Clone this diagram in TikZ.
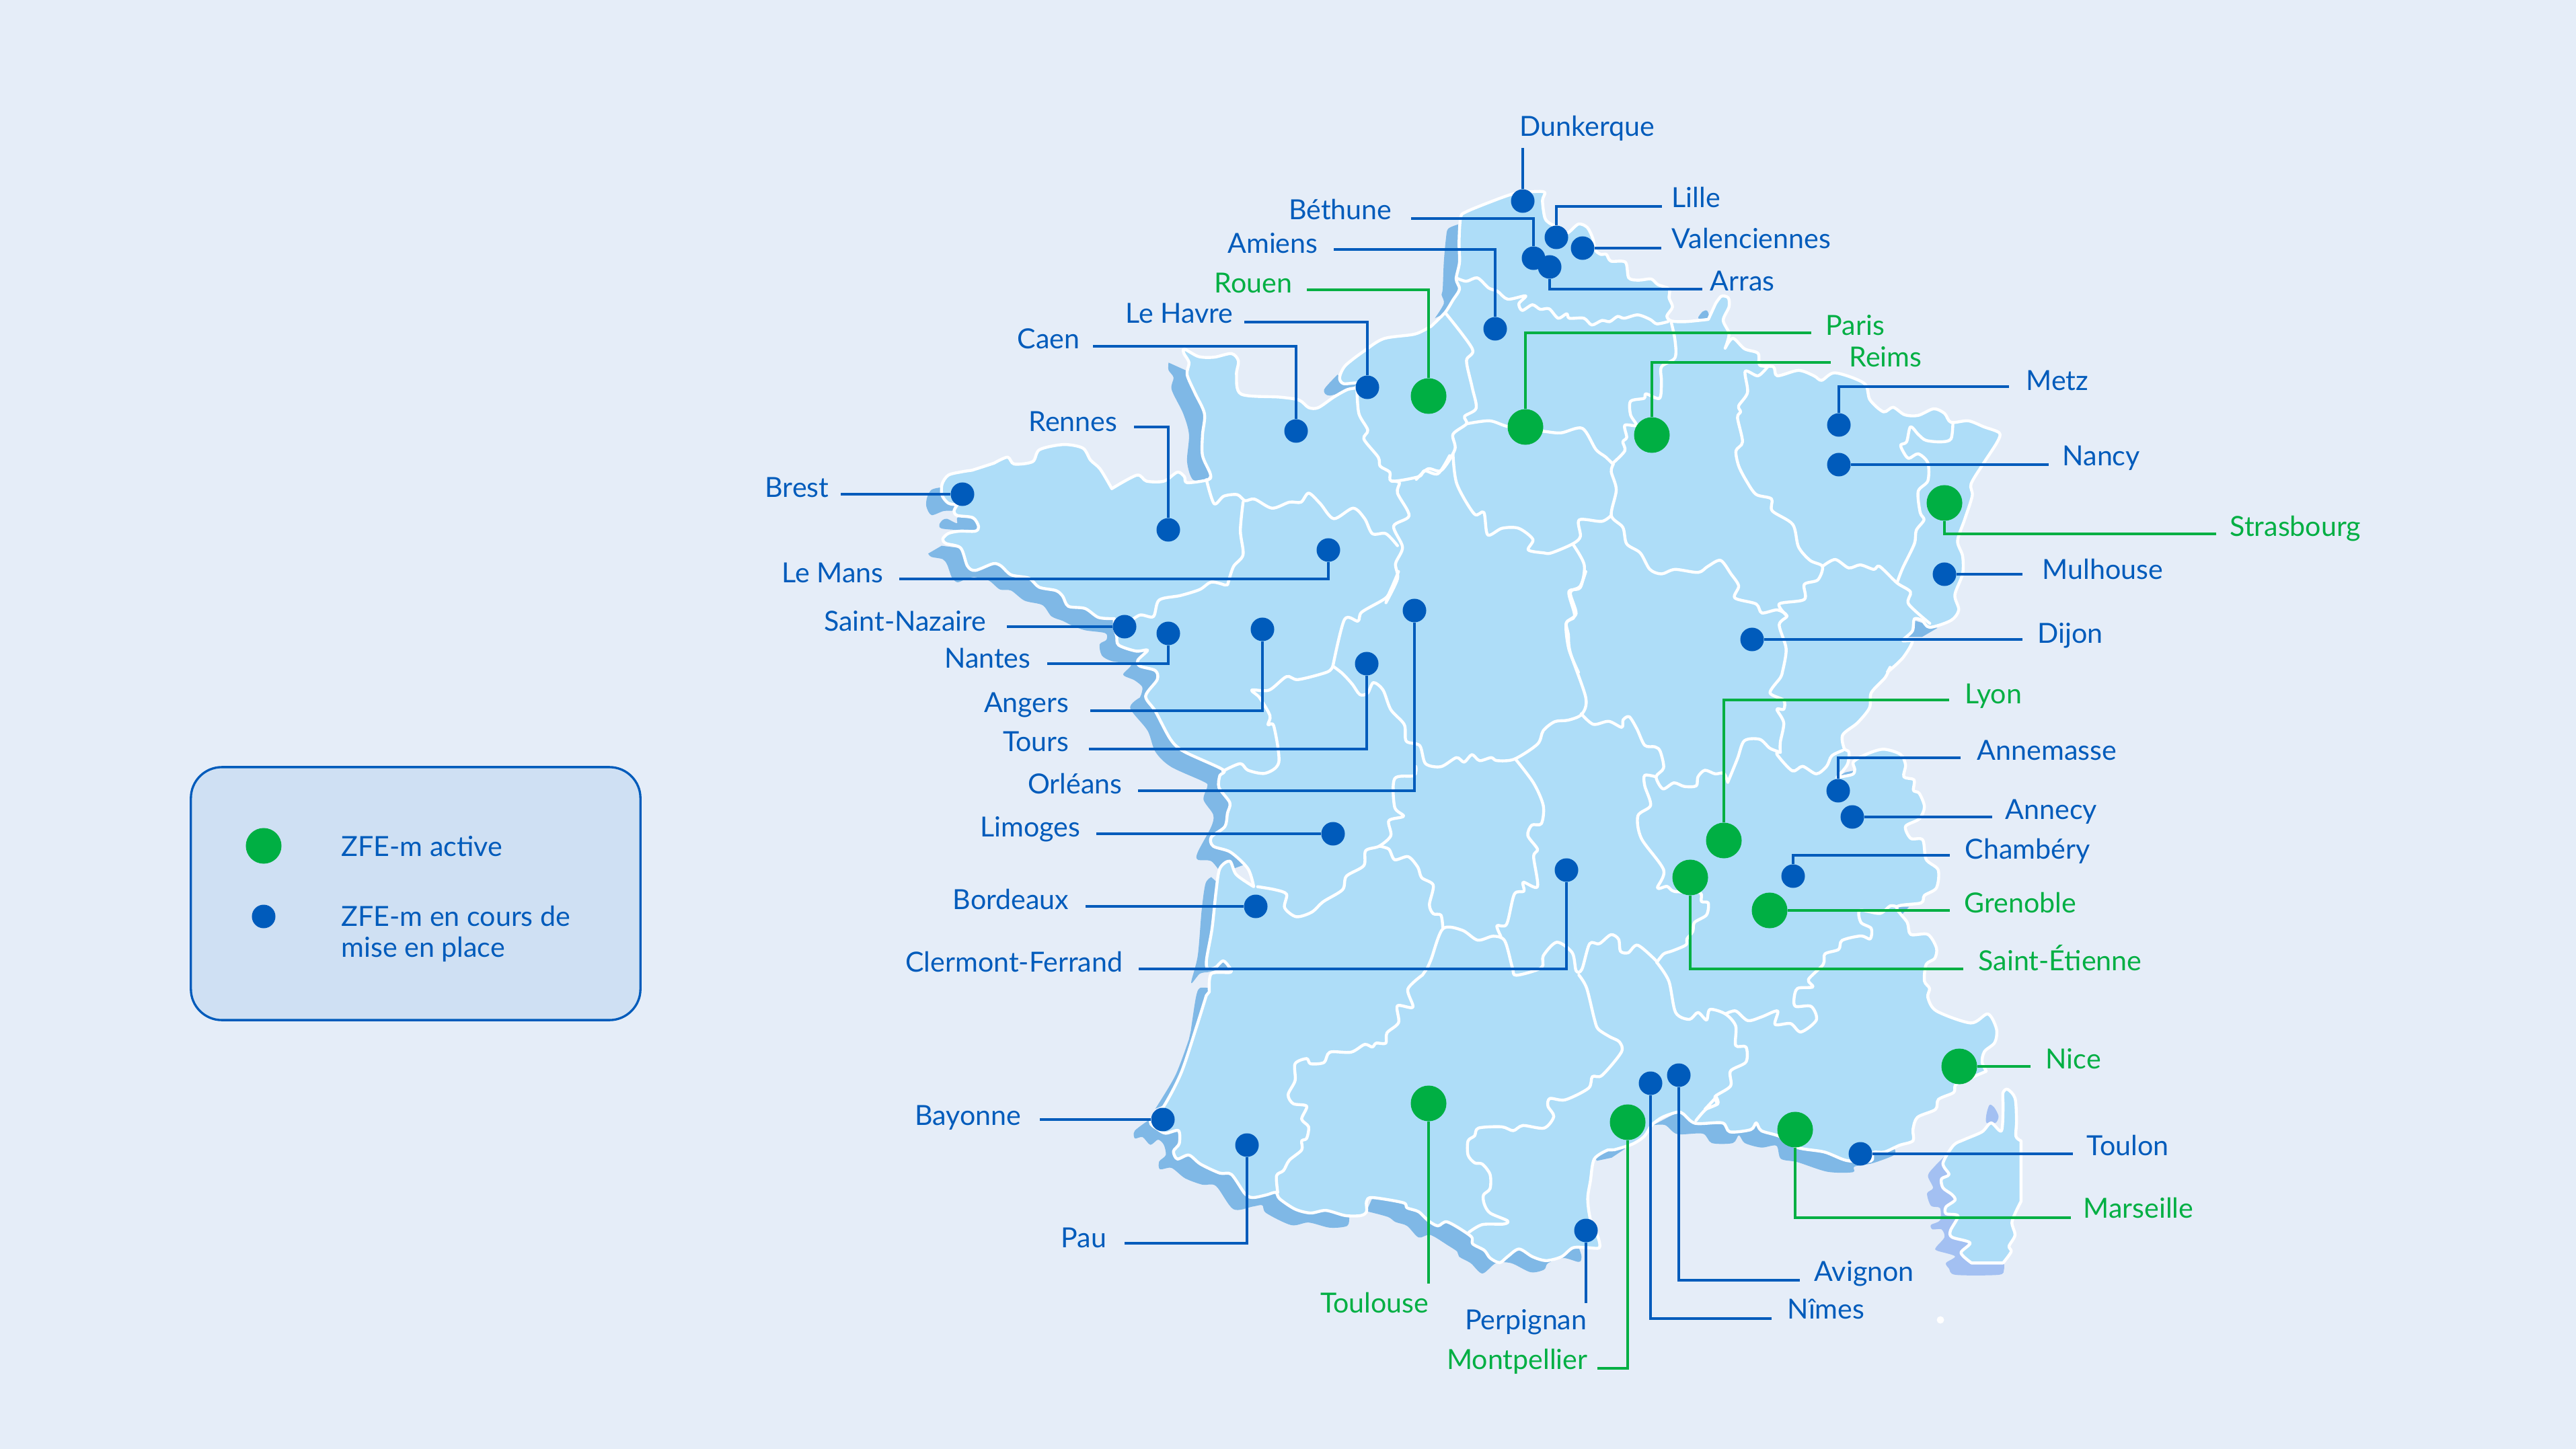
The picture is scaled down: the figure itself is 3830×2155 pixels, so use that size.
\documentclass[tikz,border=0pt]{standalone}
\usepackage{fontspec}
\setmainfont{Lato}
\definecolor{bgc}{HTML}{E5EDF8}
\definecolor{landc}{HTML}{AEDDF8}
\definecolor{seac}{HTML}{7FB8E6}
\definecolor{seak}{HTML}{A3C0F2}
\definecolor{bluec}{HTML}{005BBB}
\definecolor{greenc}{HTML}{00AF43}
\definecolor{legc}{HTML}{CFE0F3}
\tikzset{
 z1/.style={shift={(1300,200)},xscale=.574,yscale=.4464},
 z2/.style={shift={(2100,300)},xscale=.574,yscale=.4464},
 z3/.style={shift={(1600,850)},xscale=.574,yscale=.4464},
 z4/.style={shift={(2300,950)},xscale=.5102,yscale=.4464},
 z5/.style={shift={(1650,1450)},xscale=.574,yscale=.3827},
 z6/.style={shift={(2400,1500)},xscale=.4464,yscale=.3333},
 z8/.style={shift={(2120,230)},xscale=.3333,yscale=.3333},
 z9/.style={shift={(1360,700)},xscale=.3333,yscale=.3333},
 land/.style={fill=landc,draw=white,line width=1.25pt,line join=round},
 bord/.style={draw=white,line width=1.25pt,line join=round,line cap=round},
 sea/.style={fill=seac},
 seakor/.style={fill=seak},
 bdot/.style={circle,fill=bluec,inner sep=0pt,minimum size=.35cm},
 gdot/.style={circle,fill=greenc,inner sep=0pt,minimum size=.53cm},
 blab/.style={text=bluec,inner sep=0pt,yshift=-.015cm,font=\fontsize{11.7}{13}\selectfont},
 glab/.style={text=greenc,inner sep=0pt,yshift=-.015cm,font=\fontsize{11.7}{13}\selectfont},
 bcon/.style={draw=bluec,line width=.95pt},
 gcon/.style={draw=greenc,line width=.95pt},
 legbox/.style={rectangle,draw=bluec,fill=legc,line width=.95pt,rounded corners=.46cm,minimum width=6.68cm,minimum height=3.76cm,inner sep=0pt},
}
\begin{document}
\begin{tikzpicture}[x=.01cm,y=-.01cm]
\fill[bgc] (0,0) rectangle (3830,2155);
\useasboundingbox (0,0) rectangle (3830,2155);
% sea shadows
\fill[sea,z9] plot[smooth] coordinates {(115,75)(75,85)(55,120)(52,160)(75,198)(130,180)(185,180)} -- (200,100) -- cycle;
\fill[sea,z9] plot[smooth cycle] coordinates {(125,220)(110,240)(120,258)(200,265)(270,265)(290,240)(230,205)(190,210)(188,235)(145,215)};
\fill[sea] {[z9] plot[smooth] coordinates {(60,370)(75,385)(125,395)(145,420)(165,475)(190,498)(225,485)(265,475)(330,490)(380,530)(430,535)(490,580)(570,600)(610,650)(660,670)(700,690)(760,712)(850,725)(855,755)(825,775)(835,825)(880,850)(965,865)(930,910)(980,935)(1015,965)(1010,1000)}}
 {[z3] -- plot[smooth] coordinates {(165,420)(140,455)(185,530)(205,600)(245,650)(330,700)(340,715)(330,760)(355,810)(350,850)(315,935)(315,960)(350,965)(375,1005)} -- (600,900) -- (600,100)}
 {[z9] -- (400,350) -- (200,345) -- (120,335)} -- cycle;
\fill[sea,z3] plot[smooth] coordinates {(350,1018)(335,1040)(325,1130)(315,1280)(298,1370)(320,1340)(340,1335)} -- (450,1300) -- (420,1100) -- cycle;
\fill[sea] {[z3] plot[smooth] coordinates {(345,1388)(320,1388)(310,1420)(297,1530)}} {[z5] -- plot[smooth] coordinates {(205,250)(170,390)(118,520)} -- (300,400)} {[z3] -- (500,1400)} -- cycle;
\fill[sea,z5] plot[smooth] coordinates {(105,560)(65,605)(65,635)(85,630)(105,660)(125,640)(140,660)(145,700)(128,725)(130,755)(160,750)(195,790)(240,815)(275,820)(320,910)(370,900)(395,895)(405,925)(470,972)(515,962)(570,982)(615,975)(620,940)} -- (620,800) -- (200,600) -- cycle;
\fill[sea,z5] plot[smooth] coordinates {(665,918)(720,940)(740,960)(770,975)(800,1020)(830,1010)(875,1050)(900,1075)(905,1095)(935,1120)(965,1160)(1000,1120)(1040,1120)(1090,1155)(1125,1145)(1135,1120)(1175,1100)(1215,1115)(1222,1095)(1215,1060)} -- (1100,900) -- (700,800) -- cycle;
\fill[sea,z5] (1262,722) -- (1300,710) -- (1335,675) -- (1290,660) -- (1250,700) -- cycle;
\fill[sea,z6] plot[smooth] coordinates {(130,520)(170,520)(210,560)(295,558)(325,600)(395,600)(415,565)(435,600)(490,620)(540,612)(555,670)(610,685)(710,728)(795,730)(800,705)(860,690)(930,655)(935,630)} -- (900,500) -- (300,400) -- cycle;
\fill[sea,z1] plot[smooth] coordinates {(762,760)(762,785)(775,810)(770,850)(800,930)(815,1000)(810,1090)(825,1150)(860,1150)} -- (950,1000) -- (900,800) -- (805,785) -- cycle;
\fill[sea,z1] plot[smooth] coordinates {(1200,800)(1165,850)(1180,870)(1240,845)} -- (1250,830) -- (1215,830) -- cycle;
\fill[sea,z8] plot[smooth] coordinates {(148,310)(100,330)(90,370)(80,480)(75,600)(70,625)(80,665)(40,730)} -- (100,700) -- (200,500) -- (200,320) -- cycle;
\fill[sea,z8] plot[smooth cycle] coordinates {(1215,730)(1235,700)(1255,697)(1262,730)};
\fill[sea,z4] (830,470) -- (870,445) -- (892,440) -- (890,455) -- (860,480) -- cycle;
\fill[sea,z4] (1020,893) -- (1055,893) -- (1035,918) -- cycle;
\fill[sea,z2] (1300,1395) -- (1280,1450) -- (1320,1450) -- (1360,1420) -- cycle;
% mainland
\path[land] {[z9] plot[smooth] coordinates {(190,152)(150,145)(122,110)(122,60)(150,20)(210,5)(256,-2)}}
 {[z1] -- plot[smooth] coordinates {(310,1095)(345,1075)(362,1098)(410,1090)(428,1050)(490,1033)(540,1045)(560,1085)(585,1115)(615,1180)}
  -- plot[smooth] coordinates {(615,1180)(680,1135)(705,1155)(750,1155)(785,1125)(803,1140)(810,1160)(865,1150)(870,1130)(850,1070)(850,1000)(855,930)(830,860)(810,800)(815,760)(802,730)(803,715)(840,740)(880,742)(925,730)(943,755)(938,800)(950,865)(1050,875)(1100,885)(1125,910)(1150,910)(1190,875)(1225,850)(1250,843)(1250,828)(1215,830)(1205,810)(1220,770)(1270,720)(1320,680)(1400,665)(1440,640)}}
 {[z8] -- plot[smooth] coordinates {(21,768)(85,705)(120,650)(150,600)(135,555)(150,480)(148,390)(155,280)(180,255)(290,210)(390,175)(480,165)(530,168)(520,205)(530,280)(550,305)(590,325)(630,350)(680,310)(720,325)(745,375)(755,425)(780,445)(805,445)(825,475)(890,480)(905,550)(950,560)(1005,555)(1035,580)(1085,600)(1085,640)(1100,680)(1075,720)(1095,742)(1160,745)(1260,735)}}
 {[z2] -- plot[smooth] coordinates {(785,340)(800,315)(818,320)(820,350)(805,395)(820,440)(810,488)}
  -- plot[smooth] coordinates {(810,488)(830,455)(860,490)(895,505)(900,545)(935,550)(945,580)(1000,562)(1040,580)(1060,595)(1095,570)(1170,605)(1185,660)(1220,700)(1245,685)(1275,710)(1310,712)(1350,690)(1378,705)(1395,735)(1440,730)(1480,750)(1520,770)(1515,800)(1480,870)(1447,940)(1450,980)(1430,1060)(1412,1130)(1425,1180)(1425,1240)(1405,1310)(1415,1360)(1395,1395)(1340,1418)(1320,1395)(1300,1390)(1295,1430)(1270,1462)(1295,1465)(1270,1520)(1230,1568)}}
 {[z4] -- plot[smooth] coordinates {(1000,95)(985,130)(945,180)(940,230)(905,280)(862,320)(866,365)(880,378)(875,420)(845,462)}
  -- plot[smooth] coordinates {(845,462)(890,452)(897,435)(893,410)(930,385)(980,368)(1030,385)(1045,420)(1040,460)(1070,470)(1068,505)(1085,515)(1100,560)(1085,600)(1045,625)(1060,665)(1095,670)(1105,735)(1140,770)(1135,830)(1100,855)(1090,880)(1020,893)(1050,945)(1060,985)(1110,985)(1135,1030)(1130,1065)(1105,1085)(1100,1140)(1115,1165)(1110,1195)(1135,1240)(1235,1280)(1285,1250)(1310,1300)(1305,1345)(1275,1375)(1268,1410)(1280,1440)}}
 {[z6] -- plot[smooth] coordinates {(1239,280)(1150,330)(1135,345)(1130,375)(1080,405)(1070,450)(1010,485)(995,540)(995,590)(950,610)(900,640)(862,642)(855,680)(775,678)(700,640)(610,620)(550,570)(490,545)(473,510)(455,540)(385,550)(360,510)(270,512)(230,470)(210,462)(160,485)(125,520)(100,570)(60,605)(0,630)}}
 {[z5] -- plot[smooth] coordinates {(1290,680)(1255,715)(1245,800)(1238,870)(1245,950)(1265,1020)(1268,1060)(1240,1060)(1200,1060)(1170,1095)(1130,1110)(1095,1095)(1060,1065)(1030,1095)(1010,1118)(985,1100)(970,1070)(940,1045)(935,1015)(875,960)(850,975)(825,955)(800,920)(770,905)(760,885)(680,865)(665,880)(665,920)(650,935)(610,935)(560,915)(520,925)(480,910)(440,870)(430,845)(405,855)(370,865)(350,850)(315,775)(285,770)(235,735)(205,700)(175,715)(165,685)(180,655)(178,605)(145,615)(125,600)(105,570)(140,510)(185,380)(225,200)(250,80)}}
 {[z3] -- plot[smooth] coordinates {(345,1400)(350,1340)(400,1335)(395,1315)(380,1297)(360,1320)(340,1322)(338,1290)(352,1190)(362,1070)(372,990)(398,965)(415,1010)(460,1050)}
  -- plot[smooth] coordinates {(460,1050)(445,990)(400,935)(355,915)(350,885)(385,850)(392,805)(398,770)(370,720)(372,680)(380,660)(280,600)(245,560)(205,465)(180,415)(210,360)(205,330)(165,315)(160,295)(185,262)(155,265)(110,245)(105,215)(100,195)}}
 {[z9] -- plot[smooth] coordinates {(890,660)(820,655)(760,615)(685,605)(660,560)(630,535)(555,520)(510,480)(430,465)(385,425)(350,415)(270,445)(235,425)(205,345)(140,325)(125,305)(150,280)(200,270)(270,270)(285,250)(260,210)(190,200)(175,180)(190,152)}} -- cycle;
% region borders
\draw[bord,z1] plot[smooth] coordinates {(860,1150)(880,1230)(905,1205)(940,1200)(960,1220)(985,1215)(1030,1245)(1075,1225)(1105,1225)(1125,1195)(1155,1230)(1190,1280)(1240,1245)(1270,1280)(1290,1330)(1325,1330)(1355,1370)};
\draw[bord] {[z1] plot[smooth] coordinates {(955,1225)(948,1320)(955,1400)(930,1440)(915,1500)}} {[z3] -- plot[smooth] coordinates {(385,45)(350,35)(320,60)(270,80)(215,95)(200,150)(165,145)(130,175)}};
\draw[bord,z1] plot[smooth] coordinates {(1250,850)(1255,930)(1278,985)(1268,1015)(1305,1075)(1310,1105)(1335,1125)(1340,1155)(1410,1140)(1425,1120)(1460,1130)(1490,1070)};
\draw[bord,z2] plot[smooth] coordinates {(85,370)(155,490)(140,530)(155,620)(165,688)(135,715)(140,740)(105,775)(110,825)(75,895)(40,890)(10,925)};
\draw[bord] {[z1] plot[smooth] coordinates {(1340,1155)(1360,1160)(1355,1195)(1385,1270)(1345,1305)(1368,1375)(1350,1430)(1355,1480)(1325,1560)}} {[z3] -- plot[smooth] coordinates {(835,0)(815,60)(800,90)(740,135)(730,165)(695,160)(665,315)}};
\draw[bord,z3] plot[smooth] coordinates {(665,315)(650,335)(575,360)(545,350)(500,395)(455,395)(475,420)(502,480)(497,510)(512,515)(525,635)(490,672)(445,662)(425,640)(380,665)};
\draw[bord,z3] plot[smooth] coordinates {(665,315)(690,340)(715,375)(735,410)(755,405)(770,370)(795,395)(815,460)(850,510)(855,565)(890,580)(905,640)(945,650)(985,620)(1005,635)(1025,610)(1045,630)(1075,620)(1090,630)(1135,625)(1195,575)(1210,530)(1240,500)(1275,495)(1310,475)(1320,420)(1280,270)(1275,210)(1270,170)(1295,140)(1280,70)(1305,50)(1320,0)};
\draw[bord,z2] plot[smooth] coordinates {(415,1140)(445,1210)(435,1285)(405,1300)(420,1380)(398,1405)(405,1490)(430,1568)};
\draw[bord,z2] plot[smooth] coordinates {(140,740)(200,730)(250,750)(340,765)(385,770)(440,755)(475,825)(500,850)(520,875)};
\draw[bord,z2] plot[smooth] coordinates {(105,840)(115,940)(160,1040)(185,1035)(195,1110)(232,1088)(275,1088)(312,1125)(300,1160)(340,1170)(360,1170)(415,1140)(435,1115)(432,1060)(490,1065)(515,1045)};
\draw[bord,z2] plot[smooth] coordinates {(520,875)(515,900)(528,960)(515,1045)(545,1085)(555,1140)(590,1170)(615,1225)(645,1240)(680,1225)(740,1235)(765,1215)(798,1195)(825,1240)(845,1280)(835,1320)(890,1340)(905,1370)(945,1360)(970,1380)(950,1410)(968,1490)(958,1568)};
\draw[bord,z4] plot[smooth] coordinates {(686,112)(680,130)(650,180)(690,205)(690,235)(670,235)(690,280)(680,345)(680,378)};
\draw[bord,z4] plot[smooth] coordinates {(680,378)(650,365)(620,335)(575,340)(555,400)(527,478)};
\draw[bord,z4] plot[smooth] coordinates {(527,478)(515,448)(490,450)(460,438)(440,460)(435,490)(400,492)(370,480)(338,500)(318,460)(340,430)(330,375)(315,360)(285,355)(262,300)(240,260)(222,270)(218,295)(180,275)(135,285)(100,250)};
\draw[bord,z4] plot[smooth] coordinates {(680,378)(670,385)(715,440)(745,425)(785,450)(815,425)(830,390)(862,372)};
\draw[bord,z4] plot[smooth] coordinates {(318,460)(285,455)(285,490)(302,555)(265,590)(275,665)(340,770)(322,830)(350,825)(372,842)(445,845)(450,875)(470,880)(465,920)(430,945)(425,975)(408,1000)(405,1020)(365,1040)(340,1050)(320,1078)};
\draw[bord] {[z3] plot[smooth] coordinates {(1505,1300)(1455,1245)(1430,1270)(1410,1265)(1405,1225)(1385,1210)(1355,1240)(1330,1240)(1310,1325)(1295,1330)(1285,1270)(1245,1235)(1210,1280)(1205,1320)(1140,1345)(1130,1320)(1110,1230)(1080,1215)(1040,1228)(1000,1195)(950,1190)(920,1290)(910,1320)}} {[z5] -- plot[smooth] coordinates {(810,0)(772,55)(785,125)(745,120)(748,185)(718,225)(715,265)(690,265)(680,280)(660,270)(625,300)(570,300)(555,340)(520,345)(510,325)(480,345)(480,410)(462,465)(475,500)(510,510)(497,560)(515,590)(510,635)(497,645)(497,680)(465,720)(450,760)(432,780)(435,845)}};
\draw[bord,z3] plot[smooth] coordinates {(1100,1215)(1090,1180)(1115,1175)(1135,1075)(1160,1065)(1158,1035)(1195,1050)(1185,950)(1195,925)(1170,880)(1180,845)(1205,840)(1210,780)(1185,705)(1138,625)};
\draw[bord,z3] plot[smooth] coordinates {(880,650)(875,680)(825,690)(825,785)(848,815)(810,830)(815,880)(785,915)(750,930)(745,980)(700,1015)(690,1060)(640,1100)(610,1135)(570,1150)(540,1120)(545,1075)(515,1060)(470,1050)};
\draw[bord,z3] plot[smooth] coordinates {(785,915)(810,925)(825,960)(860,950)(885,985)(895,1020)(925,1045)(915,1110)(925,1140)(945,1145)(950,1190)};
\draw[bord,z5] plot[smooth] coordinates {(1215,0)(1235,50)(1255,170)(1265,210)(1295,240)(1320,260)(1325,300)(1275,390)(1250,395)(1240,440)(1180,485)(1140,480)(1135,510)(1150,550)(1125,595)(1070,585)(1045,605)(1015,590)(955,595)(945,625)(928,645)(928,700)(945,730)(965,735)(985,775)(985,830)(968,855)(970,890)(985,925)(1030,955)(1020,968)(965,970)(930,1000)};
\draw[bord] {[z4] plot[smooth] coordinates {(320,1078)(355,1140)(375,1245)(415,1268)(440,1245)(465,1270)(475,1235)(520,1250)(550,1290)(550,1355)(580,1360)(580,1410)(535,1440)(535,1490)(490,1525)(495,1550)(460,1568)}} {[z6] -- plot[smooth] coordinates {(340,395)(345,425)(305,450)(272,500)}};
\draw[bord,z4] plot[smooth] coordinates {(520,1250)(550,1240)(585,1272)(625,1260)(672,1240)(665,1285)(710,1282)(740,1310)(785,1270)(770,1225)(725,1225)(720,1200)(730,1165)(775,1160)(762,1135)(805,1085)(810,1050)(850,1035)(860,1005)(915,990)(942,1000)(945,965)(915,945)(912,905)(970,915)(1000,890)(1020,893)};
\draw[bord,z2] plot[smooth] coordinates {(670,400)(680,460)(680,520)(645,550)(645,600)(640,655)(605,640)(600,655)(565,665)(565,710)(580,745)(550,745)(555,785)(545,800)(550,830)(520,870)};
\draw[bord,z2] plot[smooth] coordinates {(920,550)(895,580)(862,565)(868,635)(845,680)(850,700)(842,720)(855,800)(838,830)(845,880)(865,930)(890,975)(930,990)(932,1030)(985,1075)(1000,1150)(1030,1195)(1062,1215)(1050,1260)(1015,1275)(1015,1325)(950,1340)(970,1380)};
\draw[bord,z2] plot[smooth] coordinates {(1400,735)(1395,790)(1370,800)(1330,795)(1310,775)(1290,750)(1280,800)(1265,810)(1270,830)(1285,855)(1310,840)(1335,870)(1335,930)(1310,965)(1315,1035)(1325,1060)(1305,1095)(1300,1140)(1270,1220)(1255,1270)};
\draw[bord,z2] plot[smooth] coordinates {(1062,1215)(1095,1192)(1130,1220)(1160,1210)(1195,1225)(1210,1215)(1255,1270)(1290,1300)(1285,1340)(1340,1405)};
\draw[bord,z8] plot[smooth] coordinates {(135,550)(180,565)(230,550)(280,595)(320,610)(365,645)(445,630)(415,665)(430,695)(475,670)(510,690)(550,688)(590,730)(628,710)(640,730)(705,730)(740,760)(785,740)(820,745)(855,722)(885,730)(945,715)(1000,735)(1030,755)(1080,745)};
% Corsica
\fill[seakor,z6] plot[smooth cycle] coordinates {(1250,430)(1240,470)(1240,510)(1270,510)(1280,480)(1265,440)};
\fill[seakor,z6] plot[smooth] coordinates {(1100,660)(1070,700)(1045,745)(1062,800)(1042,825)(1055,880)(1085,890)(1085,945)(1055,965)(1060,985)(1090,985)(1100,1020)(1072,1065)(1075,1080)(1135,1105)(1105,1135)(1115,1160)(1137,1188)(1280,1188)(1298,1165)(1298,1135)} -- (1300,800) -- cycle;
\path[land,z6] plot[smooth] coordinates {(1295,420)(1295,375)(1310,360)(1335,400)(1340,500)(1338,570)(1355,590)} -- (1355,860) -- plot[smooth] coordinates {(1355,860)(1325,950)(1335,1010)(1315,1060)(1322,1085)(1295,1135)} -- (1190,1135) -- plot[smooth] coordinates {(1190,1135)(1155,1090)(1185,1045)(1125,1020)(1120,990)(1145,925)(1105,915)(1105,885)(1135,855)(1125,830)(1095,800)(1090,760)(1115,740)(1095,690)(1130,610)(1165,585)(1225,550)(1255,510)(1290,545)(1295,420)} -- cycle;
\fill[white] (2885,1963) circle (5.5);
% legend
\node[legbox] (legend) at (618,1329) {};
\node[gdot] (legg) at (392,1258) {};
\node[bdot] (legb) at (392,1363) {};
\node[blab,anchor=base west] (leg1) at (507,1272) {ZFE-m active};
\node[blab,anchor=base west] (leg2) at (507,1376) {ZFE-m en cours de};
\node[blab,anchor=base west] (leg3) at (507,1422) {mise en place};
% cities
\node[bdot] (dDunkerque) at (2264,299) {};
\node[bdot] (dLille) at (2314,353) {};
\node[bdot] (dValenciennes) at (2353,369) {};
\node[bdot] (dBethune) at (2280,384) {};
\node[bdot] (dArras) at (2304,397) {};
\node[bdot] (dAmiens) at (2223,489) {};
\node[bdot] (dHavre) at (2033,576) {};
\node[gdot] (dRouen) at (2124,589) {};
\node[bdot] (dCaen) at (1927,641) {};
\node[bdot] (dRennes) at (1737,788) {};
\node[bdot] (dBrest) at (1431,735) {};
\node[bdot] (dMans) at (1975,818) {};
\node[bdot] (dNazaire) at (1672,932) {};
\node[bdot] (dNantes) at (1737,942) {};
\node[bdot] (dAngers) at (1877,936) {};
\node[bdot] (dTours) at (2032,987) {};
\node[bdot] (dOrleans) at (2103,908) {};
\node[bdot] (dLimoges) at (1982,1240) {};
\node[bdot] (dBordeaux) at (1867,1348) {};
\node[bdot] (dClermont) at (2329,1294) {};
\node[gdot] (dParis) at (2268,635) {};
\node[gdot] (dReims) at (2456,647) {};
\node[bdot] (dMetz) at (2734,632) {};
\node[bdot] (dNancy) at (2734,691) {};
\node[gdot] (dStrasbourg) at (2891,748) {};
\node[bdot] (dMulhouse) at (2891,854) {};
\node[bdot] (dDijon) at (2605,951) {};
\node[gdot] (dLyon) at (2563,1250) {};
\node[gdot] (dEtienne) at (2513,1305) {};
\node[gdot] (dGrenoble) at (2631,1354) {};
\node[bdot] (dChambery) at (2666,1303) {};
\node[bdot] (dAnnemasse) at (2733,1176) {};
\node[bdot] (dAnnecy) at (2754,1215) {};
\node[gdot] (dNice) at (2913,1586) {};
\node[bdot] (dBayonne) at (1729,1665) {};
\node[bdot] (dPau) at (1854,1703) {};
\node[gdot] (dToulouse) at (2124,1641) {};
\node[gdot] (dMontpellier) at (2420,1669) {};
\node[bdot] (dPerpignan) at (2358,1830) {};
\node[bdot] (dNimes) at (2454,1611) {};
\node[bdot] (dAvignon) at (2496,1599) {};
\node[gdot] (dMarseille) at (2669,1680) {};
\node[bdot] (dToulon) at (2766,1716) {};
% free ends
\foreach \n/\x/\y in {Dunkerque/2264/220,Lille/2471/307,Valenciennes/2470/369,Bethune/2098/325,Arras/2531/430,Amiens/1983/371,Rouen/1943/431,Havre/1850/479,Caen/1625/515,Rennes/1686/635,Brest/1250/735,Mans/1337/861,Nazaire/1497/932,Nantes/1557/987,Angers/1621/1057,Tours/1619/1114,Orleans/1692/1176,Limoges/1630/1240,Bordeaux/1614/1348,Clermont/1693/1441,Bayonne/1546/1665,Pau/1672/1849,Toulouse/2124/1909,Perpignan/2358/1938,Montpellier/2375/2035,Nimes/2634/1961,Avignon/2676/1904,Marseille/3079/1811,Toulon/3082/1716,Nice/3019/1586,Etienne/2919/1441,Grenoble/2899/1354,Chambery/2899/1272,Annecy/2962/1215,Annemasse/2915/1127,Lyon/2898/1041,Dijon/3007/951,Mulhouse/3007/854,Strasbourg/3295/794,Nancy/3046/691,Metz/2987/575,Reims/2722/539,Paris/2693/495}{\coordinate (e\n) at (\x,\y);}
% connectors
\foreach \n in {Dunkerque,Valenciennes,Brest,Nazaire,Limoges,Bordeaux,Bayonne,Perpignan,Toulon,Dijon,Mulhouse,Nancy,Annecy}{\draw[bcon] (d\n) -- (e\n);}
\foreach \n in {Nice,Grenoble,Toulouse}{\draw[gcon] (d\n) -- (e\n);}
\foreach \n in {Lille,Bethune,Arras,Amiens,Havre,Caen,Rennes,Mans,Nantes,Angers,Tours,Orleans,Clermont,Pau,Nimes,Avignon,Chambery,Annemasse,Metz}{\draw[bcon] (d\n) |- (e\n);}
\foreach \n in {Rouen,Montpellier,Marseille,Etienne,Lyon,Strasbourg,Reims,Paris}{\draw[gcon] (d\n) |- (e\n);}
% labels
\foreach \n/\t/\x/\y in {Dunkerque/Dunkerque/2259/201,Lille/Lille/2485/307,Valenciennes/Valenciennes/2485/368,Arras/Arras/2542/431,Nimes/Nîmes/2657/1960,Avignon/Avignon/2697/1904,Toulon/Toulon/3102/1717,Annecy/Annecy/2981/1217,Annemasse/Annemasse/2939/1129,Chambery/Chambéry/2921/1276,Dijon/Dijon/3029/955,Mulhouse/Mulhouse/3036/860,Nancy/Nancy/3066/691,Metz/Metz/3012/579}{\node[blab,anchor=base west] (t\n) at (\x,\y) {\t};}
\foreach \n/\t/\x/\y in {Paris/Paris/2714/497,Reims/Reims/2749/544,Marseille/Marseille/3097/1810,Nice/Nice/3041/1588,Etienne/Saint-Étienne/2941/1442,Grenoble/Grenoble/2920/1356,Lyon/Lyon/2921/1045,Strasbourg/Strasbourg/3315/796}{\node[glab,anchor=base west] (t\n) at (\x,\y) {\t};}
\foreach \n/\t/\x/\y in {Bethune/Béthune/2070/325,Amiens/Amiens/1960/375,Havre/Le Havre/1834/479,Caen/Caen/1606/517,Rennes/Rennes/1662/640,Brest/Brest/1233/738,Mans/Le Mans/1314/865,Nazaire/Saint-Nazaire/1467/937,Nantes/Nantes/1533/992,Angers/Angers/1590/1058,Tours/Tours/1590/1116,Orleans/Orléans/1669/1179,Limoges/Limoges/1607/1243,Bordeaux/Bordeaux/1590/1351,Clermont/Clermont-Ferrand/1670/1444,Bayonne/Bayonne/1519/1672,Pau/Pau/1646/1854,Perpignan/Perpignan/2360/1976}{\node[blab,anchor=base east] (t\n) at (\x,\y) {\t};}
\foreach \n/\t/\x/\y in {Rouen/Rouen/1922/434,Toulouse/Toulouse/2125/1951,Montpellier/Montpellier/2361/2035}{\node[glab,anchor=base east] (t\n) at (\x,\y) {\t};}
\end{tikzpicture}
\end{document}
